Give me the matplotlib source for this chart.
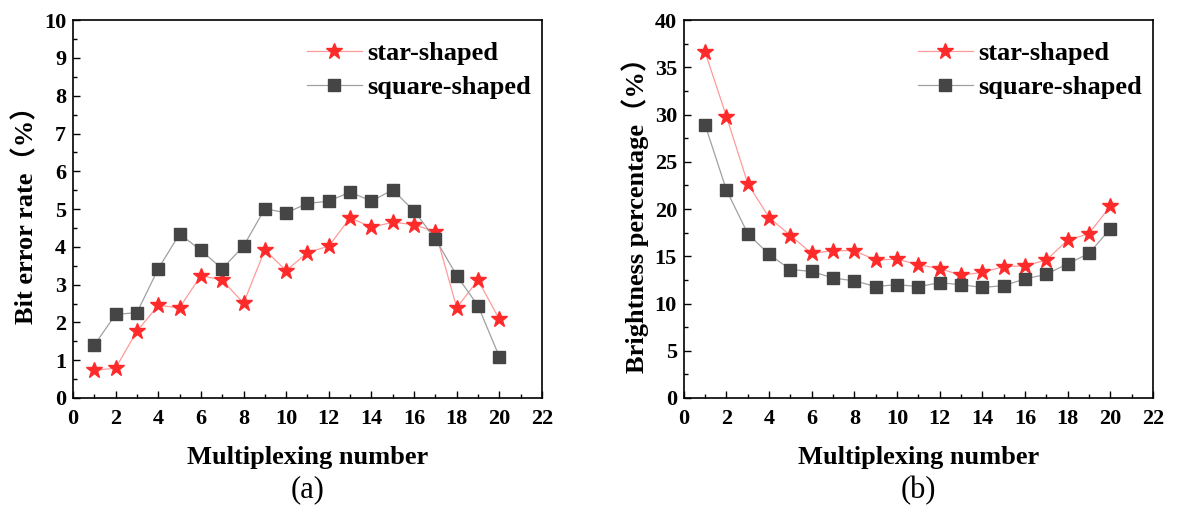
import matplotlib
matplotlib.use("Agg")
import matplotlib.pyplot as plt
from matplotlib.ticker import MultipleLocator

plt.rcParams['font.family'] = ['Liberation Serif', 'Noto Sans CJK SC']
plt.rcParams['font.weight'] = 'bold'

mux = list(range(1, 21))

# (a) bit error rate (%)
ber_star = [0.73, 0.79, 1.77, 2.45, 2.39, 3.24, 3.12, 2.51, 3.92, 3.37,
            3.85, 4.02, 4.77, 4.52, 4.65, 4.59, 4.40, 2.39, 3.12, 2.08]
ber_square = [1.40, 2.21, 2.26, 3.42, 4.34, 3.91, 3.42, 4.02, 5.01, 4.90,
              5.15, 5.21, 5.45, 5.21, 5.51, 4.95, 4.21, 3.24, 2.44, 1.09]

# (b) brightness percentage (%)
br_star = [36.6, 29.8, 22.7, 19.1, 17.2, 15.3, 15.6, 15.6, 14.6, 14.7,
           14.1, 13.7, 13.0, 13.3, 13.9, 14.0, 14.6, 16.7, 17.4, 20.3]
br_square = [28.9, 22.0, 17.4, 15.2, 13.6, 13.4, 12.7, 12.4, 11.8, 12.0,
             11.8, 12.2, 12.0, 11.7, 11.9, 12.6, 13.1, 14.2, 15.3, 17.9]

fig = plt.figure(figsize=(11.77, 5.31), dpi=100)
ax1 = fig.add_axes([0.062, 0.2505, 0.3985, 0.7115])
ax2 = fig.add_axes([0.581, 0.2505, 0.3985, 0.7115])


def draw(ax, star, square, ylim, ystep, ylabel, tag):
    ax.plot(mux, star, color='#ff9a9a', lw=0.9, marker='*', ms=12,
            mfc='#ff2a2a', mec='#ff2a2a', label='star-shaped')
    ax.plot(mux, square, color='#a0a0a0', lw=0.9, marker='s', ms=8.5,
            mfc='#454545', mec='#454545', label='square-shaped')
    ax.set_xlim(0, 22)
    ax.set_ylim(0, ylim)
    ax.xaxis.set_major_locator(MultipleLocator(2))
    ax.xaxis.set_minor_locator(MultipleLocator(1))
    ax.yaxis.set_major_locator(MultipleLocator(ystep))
    ax.yaxis.set_minor_locator(MultipleLocator(ystep / 2))
    ax.tick_params(which='both', direction='in', labelsize=16, width=1.0)
    ax.tick_params(which='major', length=5)
    ax.tick_params(which='minor', length=3)
    ax.tick_params(axis='x', pad=8)
    ax.tick_params(axis='y', pad=5)
    for s in ax.spines.values():
        s.set_linewidth(1.2)
    ax.set_xlabel('Multiplexing number', fontsize=19, fontweight='bold', labelpad=12)
    ax.set_ylabel(ylabel, fontsize=19, fontweight='bold', labelpad=4)
    ax.legend(loc='upper right', bbox_to_anchor=(1.019, 0.995), frameon=False,
              fontsize=19, handlelength=2.1, borderaxespad=0.35,
              labelspacing=0.4, handletextpad=0.2)
    pos = ax.get_position()
    fig.text((pos.x0 + pos.x1) / 2, 0.077, tag, ha='center', va='center',
             fontsize=22, fontweight='normal')


draw(ax1, ber_star, ber_square, 10, 1, 'Bit error rate（%）', '(a)')
draw(ax2, br_star, br_square, 40, 5, 'Brightness percentage（%）', '(b)')

fig.savefig('out.png', dpi=100)
